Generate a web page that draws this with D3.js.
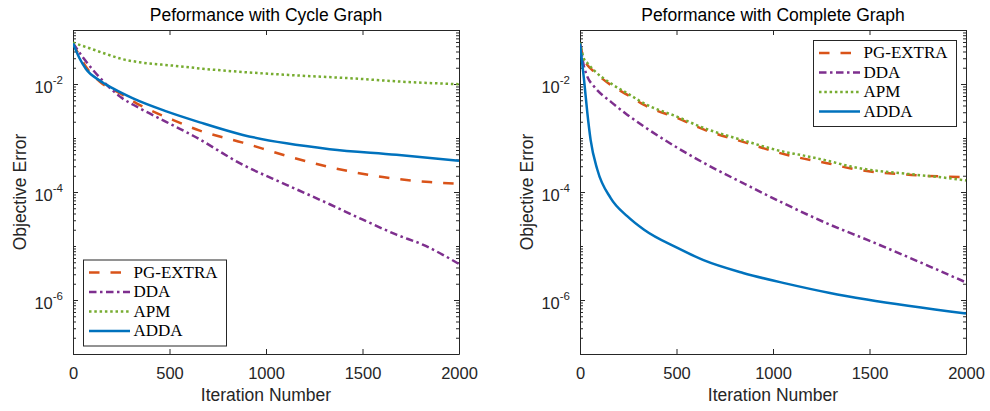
<!DOCTYPE html>
<html><head><meta charset="utf-8">
<script src="https://cdn.jsdelivr.net/npm/d3@7"></script>
<style>body{margin:0;background:#fff}svg{display:block}</style>
</head><body>
<svg id="chart" width="990" height="411"></svg>
<script>
// ---------- data ----------
const seriesNames = ["PG-EXTRA", "DDA", "APM", "ADDA"];
const panelTitles = ["Peformance with Cycle Graph", "Peformance with Complete Graph"];
const xLabel = "Iteration Number";
const yLabel = "Objective Error";
const xTicks = [0, 500, 1000, 1500, 2000];
const yTickExps = [-6, -4, -2];

// Cycle graph
const cycleIterPG  = [0, 67, 138, 242, 344, 517, 657, 880, 1106, 1330, 1605, 1848, 2000];
const cyclePG      = [5.68e-2, 2.09e-2, 1.11e-2, 6.76e-3, 4.11e-3, 2.17e-3, 1.37e-3, 8.2e-4, 4.68e-4, 2.89e-4, 1.89e-4, 1.53e-4, 1.42e-4];
const cycleIterDDA = [0, 55, 154, 242, 346, 485, 625, 880, 1106, 1330, 1502, 1676, 1812, 2000];
const cycleDDA     = [5.68e-2, 3.0e-2, 1.15e-2, 5.9e-3, 3.55e-3, 1.97e-3, 1.09e-3, 3.19e-4, 1.36e-4, 5.93e-5, 3.07e-5, 1.62e-5, 1.06e-5, 4.65e-6];
const cycleIterAPM = [0, 86, 171, 259, 344, 517, 672, 1175, 1434, 1693, 2000];
const cycleAPM     = [5.82e-2, 4.59e-2, 3.60e-2, 2.87e-2, 2.53e-2, 2.19e-2, 1.92e-2, 1.43e-2, 1.28e-2, 1.11e-2, 9.9e-3];
const cycleIterADDA = [0, 33, 67, 138, 207, 311, 484, 657, 880, 1106, 1330, 1676, 2000];
const cycleADDA     = [5.68e-2, 3.03e-2, 1.90e-2, 1.16e-2, 8.28e-3, 5.41e-3, 3.11e-3, 1.95e-3, 1.14e-3, 7.96e-4, 6.22e-4, 4.89e-4, 3.78e-4];

// Complete graph
const compIterPG  = [0, 21, 38, 73, 159, 246, 332, 505, 640, 845, 1070, 1139, 1295, 1399, 1745, 2000];
const compPG      = [5.68e-2, 2.79e-2, 2.25e-2, 1.69e-2, 9.62e-3, 6.28e-3, 4.10e-3, 2.33e-3, 1.44e-3, 8.49e-4, 4.89e-4, 4.30e-4, 3.33e-4, 2.75e-4, 2.04e-4, 1.89e-4];
const compIterDDA = [0, 21, 38, 73, 159, 246, 332, 505, 640, 845, 1070, 1295, 1486, 2000];
const compDDA     = [5.68e-2, 2.09e-2, 1.37e-2, 8.95e-3, 4.72e-3, 2.68e-3, 1.63e-3, 6.58e-4, 3.48e-4, 1.46e-4, 5.81e-5, 2.48e-5, 1.31e-5, 2.12e-6];
const compIterAPM = [0, 21, 38, 73, 159, 246, 332, 505, 640, 845, 1070, 1139, 1295, 1399, 1745, 1850, 2000];
const compAPM     = [5.87e-2, 2.9e-2, 2.45e-2, 1.78e-2, 1.03e-2, 6.70e-3, 4.38e-3, 2.46e-3, 1.54e-3, 9.06e-4, 5.43e-4, 4.89e-4, 3.70e-4, 2.99e-4, 2.08e-4, 1.91e-4, 1.64e-4];
const compIterADDA = [0, 21, 38, 55, 90, 159, 246, 332, 505, 640, 845, 1070, 1295, 1486, 2000];
const compADDA     = [5.68e-2, 1.19e-2, 2.92e-3, 9.25e-4, 2.58e-4, 7.72e-5, 3.53e-5, 2.0e-5, 9.19e-6, 5.47e-6, 3.17e-6, 2.01e-6, 1.35e-6, 1.02e-6, 5.6e-7];

// ---------- styles ----------
const colors = ["#D95319", "#7E2F8E", "#77AC30", "#0072BD"];
const dashes = ["10.5,11", "7.5,3.5,2.5,3.5", "2.5,2.8", null];
const axisColor = "#262626";
const sansFont = "'Liberation Sans', Arial, Helvetica, sans-serif";
const serifFont = "'Liberation Serif', 'Times New Roman', serif";

const svg = d3.select("#chart");
const plotTop = 30, plotBottom = 354;

const panels = [
  { x0: 73, x1: 459, title: panelTitles[0], legend: "bottomleft",
    iters: [cycleIterPG, cycleIterDDA, cycleIterAPM, cycleIterADDA],
    vals: [cyclePG, cycleDDA, cycleAPM, cycleADDA] },
  { x0: 580, x1: 966, title: panelTitles[1], legend: "topright",
    iters: [compIterPG, compIterDDA, compIterAPM, compIterADDA],
    vals: [compPG, compDDA, compAPM, compADDA] }
];

const minorTicks = [];
for (let e = -7; e <= -2; e++) {
  for (let k = 1; k <= 9; k++) {
    const v = k * Math.pow(10, e);
    if (k === 1 && yTickExps.includes(e)) continue;
    if (v > 1e-7 * 0.999 && v < 1e-1 * 1.001) minorTicks.push(+v.toPrecision(3));
  }
}

function styleAxis(g) {
  g.selectAll("path.domain").attr("stroke", axisColor).attr("stroke-width", 1);
  g.selectAll(".tick line").attr("stroke", axisColor).attr("stroke-width", 1);
  g.selectAll("text").attr("fill", axisColor).attr("font-family", sansFont).attr("font-size", 16.5);
}

panels.forEach((p, pi) => {
  const x = d3.scaleLinear().domain([0, 2000]).range([p.x0, p.x1]);
  const y = d3.scaleLog().domain([1e-7, 1e-1]).range([plotBottom, plotTop]);
  const g = svg.append("g");

  const clipId = "clip" + pi;
  svg.append("clipPath").attr("id", clipId).append("rect")
    .attr("x", p.x0).attr("y", plotTop).attr("width", p.x1 - p.x0 + 1).attr("height", plotBottom - plotTop + 1);

  const gb = g.append("g").attr("transform", `translate(0,${plotBottom})`)
    .call(d3.axisBottom(x).tickValues(xTicks).tickSizeInner(-5).tickSizeOuter(0).tickPadding(13).tickFormat(d3.format("d")));
  styleAxis(gb);
  const gt = g.append("g").attr("transform", `translate(0,${plotTop})`)
    .call(d3.axisTop(x).tickValues(xTicks).tickSizeInner(-5).tickSizeOuter(0).tickFormat(""));
  styleAxis(gt);

  const gl = g.append("g").attr("transform", `translate(${p.x0},0)`)
    .call(d3.axisLeft(y).tickValues(yTickExps.map(e => Math.pow(10, e))).tickSizeInner(-5).tickSizeOuter(0).tickPadding(10).tickFormat(""));
  styleAxis(gl);
  gl.selectAll(".tick text").each(function(d) {
    const t = d3.select(this);
    const e = Math.round(Math.log10(d));
    t.attr("dy", "0.5em").attr("text-anchor", "end");
    t.append("tspan").text("10");
    t.append("tspan").attr("font-size", 11.5).attr("dy", -9).text(String(e));
  });
  const glm = g.append("g").attr("transform", `translate(${p.x0},0)`)
    .call(d3.axisLeft(y).tickValues(minorTicks).tickSizeInner(-3).tickSizeOuter(0).tickFormat(""));
  styleAxis(glm);
  glm.select("path.domain").remove();

  const gr = g.append("g").attr("transform", `translate(${p.x1},0)`)
    .call(d3.axisRight(y).tickValues(yTickExps.map(e => Math.pow(10, e))).tickSizeInner(-5).tickSizeOuter(0).tickFormat(""));
  styleAxis(gr);
  const grm = g.append("g").attr("transform", `translate(${p.x1},0)`)
    .call(d3.axisRight(y).tickValues(minorTicks).tickSizeInner(-3).tickSizeOuter(0).tickFormat(""));
  styleAxis(grm);
  grm.select("path.domain").remove();

  const line = d3.line().x(d => x(d[0])).y(d => y(d[1])).curve(d3.curveMonotoneX);
  const lg = g.append("g").attr("clip-path", `url(#${clipId})`);
  seriesNames.forEach((name, si) => {
    const pts = p.iters[si].map((it, i) => [it, p.vals[si][i]]);
    lg.append("path").datum(pts)
      .attr("d", line)
      .attr("fill", "none")
      .attr("stroke", colors[si])
      .attr("stroke-width", 2.5)
      .attr("stroke-dasharray", dashes[si])
      .attr("stroke-linecap", "butt")
      .attr("stroke-linejoin", "round");
  });

  const cx = (p.x0 + p.x1) / 2;
  g.append("text").attr("x", cx).attr("y", 21).attr("text-anchor", "middle")
    .attr("font-family", sansFont).attr("font-size", 17.5).attr("fill", "#000").text(p.title);
  g.append("text").attr("x", cx).attr("y", 401).attr("text-anchor", "middle")
    .attr("font-family", sansFont).attr("font-size", 17.5).attr("fill", axisColor).text(xLabel);
  g.append("text").attr("transform", `translate(${p.x0 - 47},${(plotTop + plotBottom) / 2}) rotate(-90)`)
    .attr("text-anchor", "middle")
    .attr("font-family", sansFont).attr("font-size", 17.5).attr("fill", axisColor).text(yLabel);

  const lw = 143, lh = 86;
  const lx = p.legend === "bottomleft" ? p.x0 + 10 : p.x1 - 153;
  const ly = p.legend === "bottomleft" ? 259.5 : 40;
  const leg = g.append("g").attr("transform", `translate(${lx},${ly})`);
  leg.append("rect").attr("x", 0.5).attr("y", 0.5).attr("width", lw).attr("height", lh)
    .attr("fill", "#fff").attr("stroke", axisColor).attr("stroke-width", 1);
  seriesNames.forEach((name, si) => {
    const ry = 13 + si * 19.5;
    leg.append("line").attr("x1", 6).attr("x2", 47).attr("y1", ry).attr("y2", ry)
      .attr("stroke", colors[si]).attr("stroke-width", 2.5)
      .attr("stroke-dasharray", dashes[si]);
    leg.append("text").attr("x", 50.5).attr("y", ry + 5)
      .attr("font-family", serifFont).attr("font-size", 17).attr("fill", "#000").text(name);
  });
});
</script>
</body></html>
